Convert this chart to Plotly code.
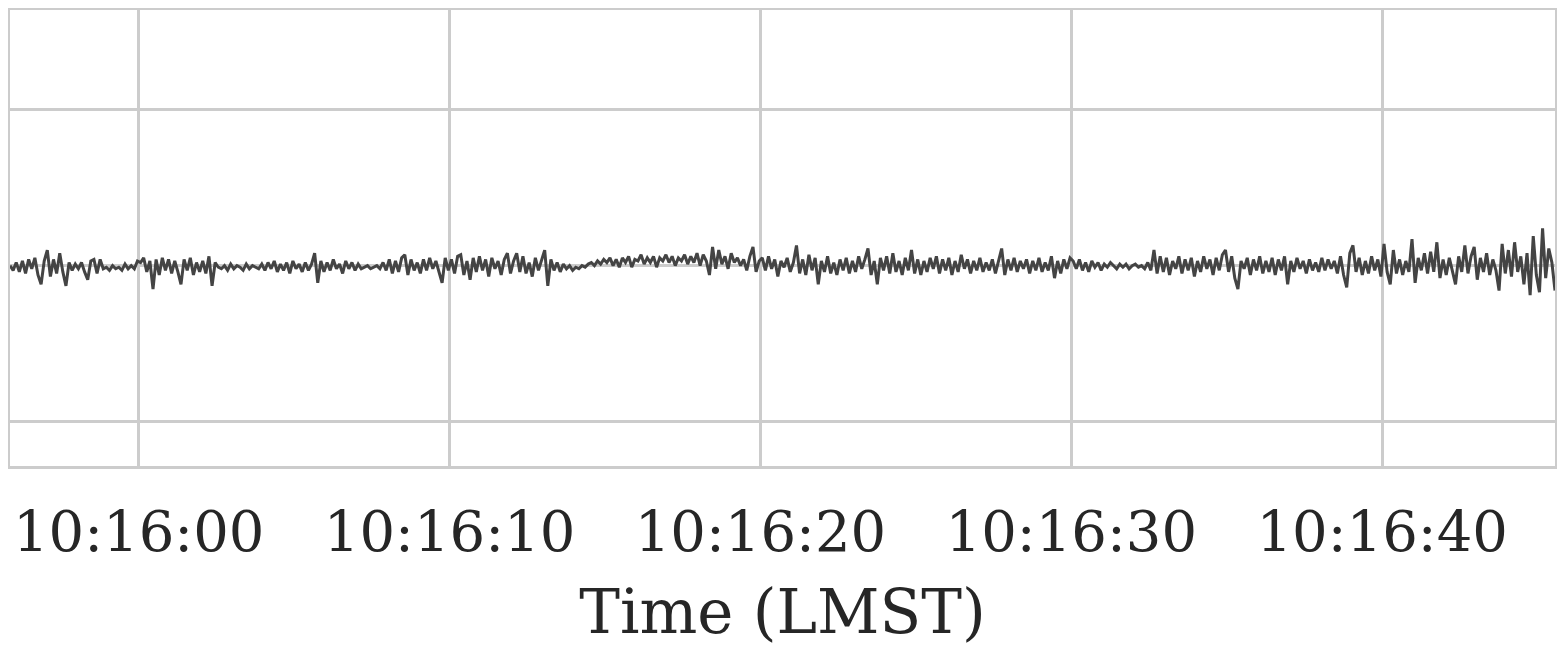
import numpy as np
import pandas as pd
import plotly.graph_objects as go

# Pressure fluctuation (arbitrary units), 10 Hz samples
t_inicio = pd.Timestamp('2019-01-01 10:15:55.86')
passo = '100ms'

seg_a = [0, -3, 2, -4, 3, -5, 4, -2, 5, -6,
         -12, 3, 10, -7, 4, -5, 8, -4, -13, 2,
         -3, 1, -2, 2, -4, -9, 3, 4, -5, 4,
         -2, -1, -3, 0, -2, -1, -3, 1, -2, 0,
         -2, 3]
seg_b = [2, 5, -4, 3, -15, 4, -6, 5, -3, 4,
         -5, 3, -4, -12, 4, -3, 5, -6, 2, -4,
         3, -5, 6, -13, 2, -1, -2, 0, -3, 1,
         -2, 0, -1, -3, 1, -2, 0, -1, -2, 1,
         -3, 2, -2, 3, -4, 1, -3, 2, -5, 3,
         -2, 1, -4, 2, -3, 1, 8, -11, 3, -4,
         2, -3, 4, -2, 1, -5, 3, -2, 2, -3,
         1, -2, -1, 0, -2, -1, 0, -2, 2, -3,
         4, -5, 3, -4, 5, 7, -6, 4, -3, 2,
         -5, 4, -3, 5, -2, 3, -4, -11, 5, -3]
seg_c = [4, -5, 6, 7, -6, 3, -9, 5, -4, 6,
         -3, 4, -7, 5, -2, 3, -6, 4, 8, -5,
         3, 8, -4, 6, -5, 2, -7, 5, -3, 4,
         10, -13, 4, -3, 2, -4, 1, -2, 0, -3,
         -1, -2, 0, -1, 1, 2, 0, 3, 1, 4,
         2, 5, 0, 4, -1, 5, 2, 6, -1, 4,
         3, 7, 1, 5, 2, 6, -1, 5, 3, 7,
         2, 6, 0, 5, 3, 7, 1, 6, 2, 8,
         0, 7, 3, -6, 12, -2, 10, 1, 6, -2,
         8, 2, 5, 0, 4, -3, 6, 12, -4, 3]
seg_d = [5, -3, 6, -2, 4, -7, 3, -1, 5, -4,
         2, 13, -5, 4, -6, 7, -3, 5, -12, 3,
         -4, 6, -5, 2, -6, 4, -3, 5, -5, 3,
         -4, 6, -2, 4, 11, -6, 3, -12, 5, -3,
         6, -5, 8, -4, 3, -6, 5, -3, 10, -5,
         4, -6, 3, -4, 5, -2, 6, -5, 4, -3,
         5, -6, 3, -4, 7, -2, 4, -5, 3, -3,
         5, -4, 2, -3, 4, -5, 3, 11, -6, 4,
         -3, 5, -4, 3, -2, 4, -5, 3, -3, 5,
         -4, 2, -3, 6, -8, 3, -5, 4, -2, 5]
seg_e = [3, -2, 4, -3, 2, -4, 3, -1, 2, -3,
         1, -1, 2, 0, -2, 1, -1, 1, -2, 0,
         1, -1, 0, -2, 2, -3, 10, -5, 6, -4,
         5, -6, 3, -2, 6, -5, 4, -3, 5, -7,
         3, -4, 6, -2, 4, -6, 5, -3, 7, 10,
         -4, 6, -8, -15, 3, -2, 5, -6, 4, -3,
         6, -5, 3, -4, 5, -6, 4, -3, 6, -12,
         3, -4, 5, -2, 3, -5, 4, -3, 2, -4,
         5, -3, 4, -2, 3, -5, 6, -6, -14, 8,
         13, -4, 5, -6, 3, -5, 6, -3, 4, -7]
seg_f = [14, -4, -12, 10, -5, 4, -6, 3, -4, 17,
         -11, 5, -3, 8, -5, 9, -4, 15, -8, 4,
         -6, 5, -3, -12, 6, -4, 13, -5, 6, 12,
         -9, 5, -4, 8, -6, 4, -3, -16, 14, -5,
         10, -7, 15, -4, 6, -12, 8, -19, 19, -6,
         -17, 24, -8, 11, 2, -16]

y_ticks = [-100, 0, 100]
y_range = [-128.6, 164.1]
x_ticks = ['10:16:00', '10:16:10', '10:16:20', '10:16:30', '10:16:40']

valores = np.array(seg_a + seg_b + seg_c + seg_d + seg_e + seg_f, dtype=float)
tempo = pd.date_range(t_inicio, periods=len(valores), freq=passo)

CINZA = '#cccccc'
TEXTO = '#262626'
FONTE = 'DejaVu Serif'

fig = go.Figure()
fig.add_trace(go.Scatter(
    x=tempo, y=valores, mode='lines',
    line=dict(color='#444444', width=3),
    hoverinfo='skip', showlegend=False,
))

tickvals = [pd.Timestamp('2019-01-01 ' + s) for s in x_ticks]

# a página tem 8px de margem no body, por isso a figura é 8px menor
fig.update_layout(
    width=1557, height=645,
    margin=dict(l=1.5, r=9.5, t=2, b=186.5),
    paper_bgcolor='white', plot_bgcolor='white',
    font=dict(family=FONTE, color=TEXTO),
    xaxis=dict(
        range=[tempo[0], tempo[-1]],
        tickvals=tickvals, ticktext=x_ticks,
        showgrid=True, gridcolor=CINZA, gridwidth=3,
        showline=True, linecolor=CINZA, linewidth=3, mirror=True,
        ticks='', tickfont=dict(size=56, family=FONTE, color=TEXTO),
        ticklabelstandoff=15,
        title=dict(text='Time (LMST)', font=dict(size=61, family=FONTE, color=TEXTO), standoff=28),
        zeroline=False, automargin=False,
    ),
    yaxis=dict(
        range=y_range, tickvals=y_ticks,
        showticklabels=False, ticks='',
        showgrid=True, gridcolor=CINZA, gridwidth=3,
        showline=True, linecolor=CINZA, linewidth=3, mirror=True,
        zeroline=False, automargin=False,
    ),
)

fig.write_html('out.html')
